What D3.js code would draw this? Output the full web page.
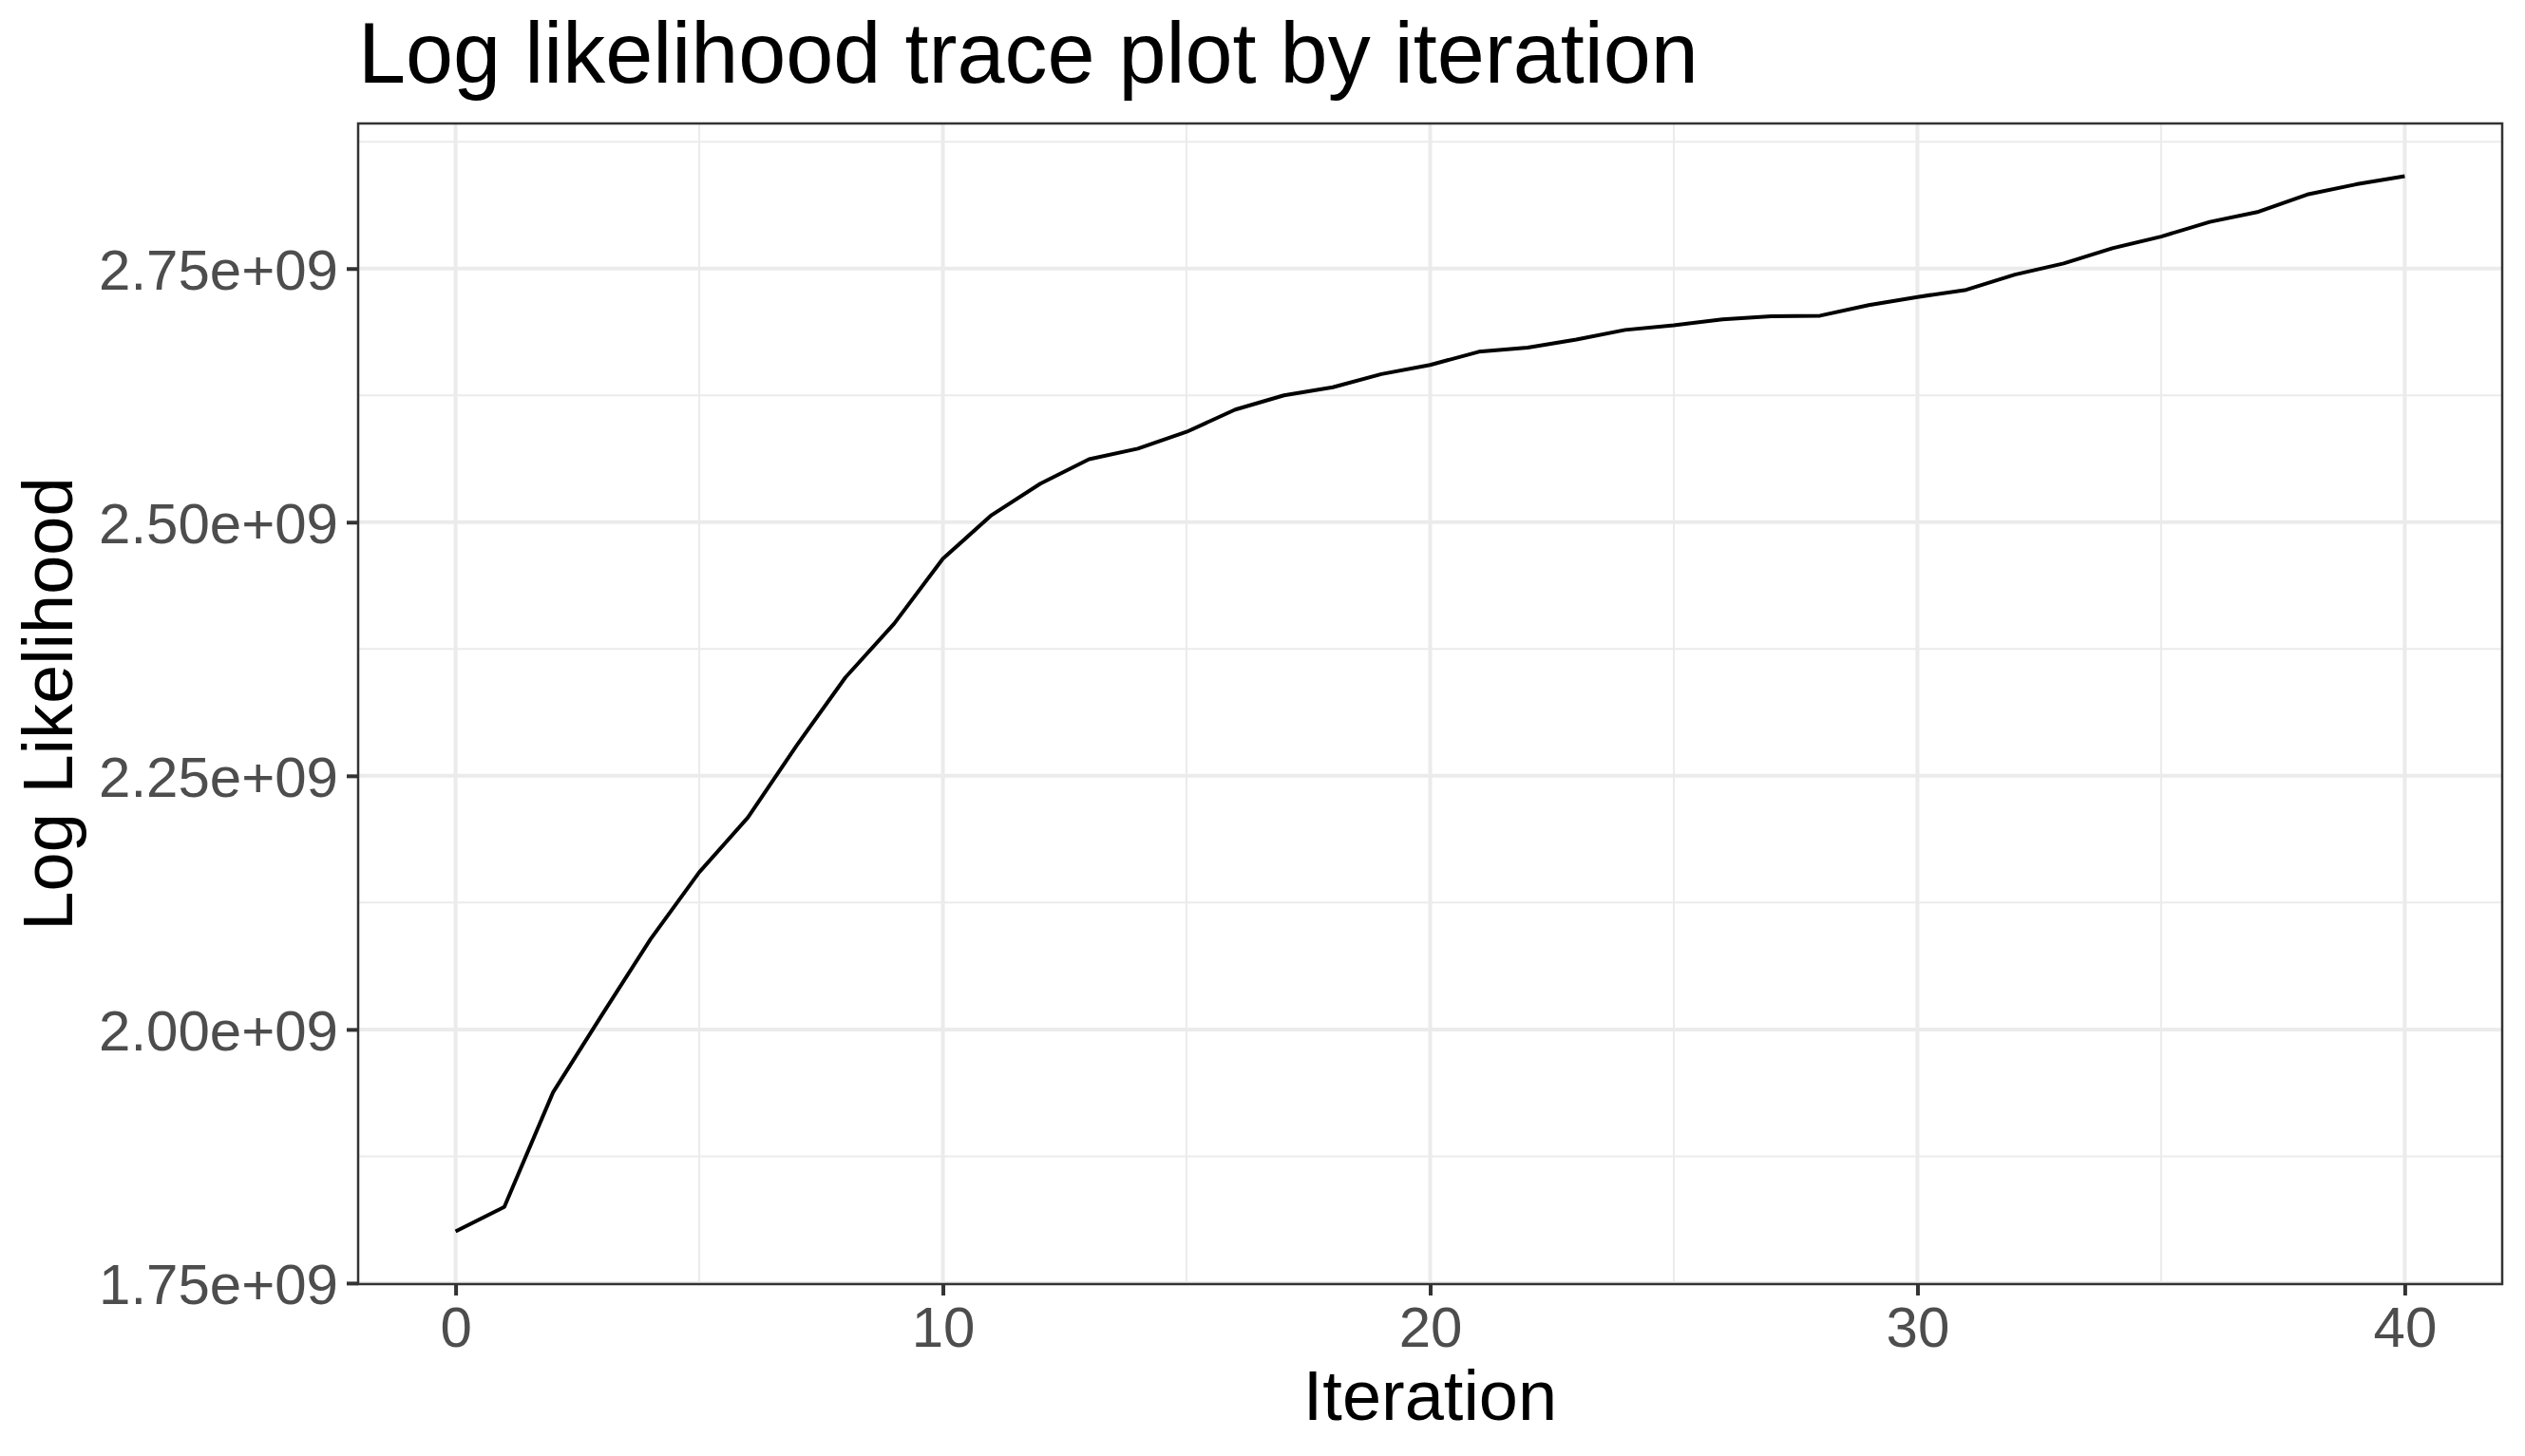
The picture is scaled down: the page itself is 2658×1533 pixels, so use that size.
<!DOCTYPE html>
<html>
<head>
<meta charset="utf-8">
<script src="https://cdn.jsdelivr.net/npm/d3@7"></script>
<style>
  html, body { margin: 0; padding: 0; background: #fff; }
  svg { display: block; }
  text { font-family: "Liberation Sans", Arial, Helvetica, sans-serif; }
</style>
</head>
<body>
<script>
// ---- data ----
const iterations = d3.range(0, 41);
const logLik = [
  1.801e9, 1.825e9, 1.938e9, 2.014e9, 2.089e9, 2.155e9, 2.209e9, 2.280e9, 2.347e9, 2.400e9,
  2.464e9, 2.507e9, 2.538e9, 2.562e9, 2.5725e9, 2.589e9, 2.611e9, 2.625e9, 2.633e9, 2.646e9,
  2.655e9, 2.668e9, 2.672e9, 2.680e9, 2.6895e9, 2.694e9, 2.700e9, 2.703e9, 2.7035e9, 2.714e9,
  2.722e9, 2.729e9, 2.744e9, 2.755e9, 2.770e9, 2.7815e9, 2.796e9, 2.806e9, 2.823e9, 2.833e9,
  2.841e9
];
const xTicks = [0, 10, 20, 30, 40];
const xTickLabels = ["0", "10", "20", "30", "40"];
const xMinor = [5, 15, 25, 35];
const yTicks = [1.75e9, 2.0e9, 2.25e9, 2.5e9, 2.75e9];
const yTickLabels = ["1.75e+09", "2.00e+09", "2.25e+09", "2.50e+09", "2.75e+09"];
const yMinor = [1.875e9, 2.125e9, 2.375e9, 2.625e9, 2.875e9];
const titleText = "Log likelihood trace plot by iteration";
const xTitle = "Iteration";
const yTitle = "Log Likelihood";

// ---- layout ----
const W = 2658, H = 1533;
const panel = { left: 377, right: 2634, top: 130, bottom: 1352 };

const svg = d3.select("body").append("svg").attr("width", W).attr("height", H);
svg.append("rect").attr("width", W).attr("height", H).attr("fill", "#fff");

const xExt = d3.extent(iterations), xPad = (xExt[1] - xExt[0]) * 0.05;
const yExt = d3.extent(logLik), yPad = (yExt[1] - yExt[0]) * 0.05;
const x = d3.scaleLinear().domain([xExt[0] - xPad, xExt[1] + xPad]).range([panel.left, panel.right]);
const y = d3.scaleLinear().domain([yExt[0] - yPad, yExt[1] + yPad]).range([panel.bottom, panel.top]);

const grid = svg.append("g");
// minor grid
grid.selectAll(".xmin").data(xMinor).join("line")
  .attr("x1", d => x(d)).attr("x2", d => x(d))
  .attr("y1", panel.top).attr("y2", panel.bottom)
  .attr("stroke", "#EBEBEB").attr("stroke-width", 2);
grid.selectAll(".ymin").data(yMinor).join("line")
  .attr("y1", d => y(d)).attr("y2", d => y(d))
  .attr("x1", panel.left).attr("x2", panel.right)
  .attr("stroke", "#EBEBEB").attr("stroke-width", 2);
// major grid
grid.selectAll(".xmaj").data(xTicks).join("line")
  .attr("x1", d => x(d)).attr("x2", d => x(d))
  .attr("y1", panel.top).attr("y2", panel.bottom)
  .attr("stroke", "#EBEBEB").attr("stroke-width", 4);
grid.selectAll(".ymaj").data(yTicks).join("line")
  .attr("y1", d => y(d)).attr("y2", d => y(d))
  .attr("x1", panel.left).attr("x2", panel.right)
  .attr("stroke", "#EBEBEB").attr("stroke-width", 4);

// line
const line = d3.line().x((d, i) => x(iterations[i])).y(d => y(d));
svg.append("path").datum(logLik)
  .attr("d", line)
  .attr("fill", "none").attr("stroke", "#000").attr("stroke-width", 4)
  .attr("stroke-linejoin", "round");

// panel border
svg.append("rect")
  .attr("x", panel.left).attr("y", panel.top)
  .attr("width", panel.right - panel.left).attr("height", panel.bottom - panel.top)
  .attr("fill", "none").attr("stroke", "#333333").attr("stroke-width", 2.5);

// axes
const xAxis = d3.axisBottom(x).tickValues(xTicks).tickFormat((d, i) => xTickLabels[i])
  .tickSizeInner(12).tickSizeOuter(0).tickPadding(8);
const gx = svg.append("g").attr("transform", `translate(0,${panel.bottom})`).call(xAxis);
gx.select(".domain").remove();
gx.selectAll(".tick line").attr("stroke", "#333333").attr("stroke-width", 4);
gx.selectAll(".tick text").attr("fill", "#4D4D4D").attr("font-size", 60)
  .attr("font-family", "Liberation Sans, Arial, sans-serif")
  .attr("dy", null).attr("y", 66);

const yAxis = d3.axisLeft(y).tickValues(yTicks).tickFormat((d, i) => yTickLabels[i])
  .tickSizeInner(12).tickSizeOuter(0).tickPadding(8);
const gy = svg.append("g").attr("transform", `translate(${panel.left},0)`).call(yAxis);
gy.select(".domain").remove();
gy.selectAll(".tick line").attr("stroke", "#333333").attr("stroke-width", 4);
gy.selectAll(".tick text").attr("fill", "#4D4D4D").attr("font-size", 60)
  .attr("font-family", "Liberation Sans, Arial, sans-serif")
  .attr("x", -21).attr("dy", "0.36em");

// titles
svg.append("text").attr("x", panel.left).attr("y", 87)
  .attr("font-size", 90).attr("fill", "#000").text(titleText);
svg.append("text").attr("x", (panel.left + panel.right) / 2).attr("y", 1495)
  .attr("text-anchor", "middle").attr("font-size", 74).attr("fill", "#000").text(xTitle);
svg.append("text")
  .attr("transform", `translate(76,${(panel.top + panel.bottom) / 2}) rotate(-90)`)
  .attr("text-anchor", "middle").attr("font-size", 74).attr("fill", "#000").text(yTitle);
</script>
</body>
</html>
